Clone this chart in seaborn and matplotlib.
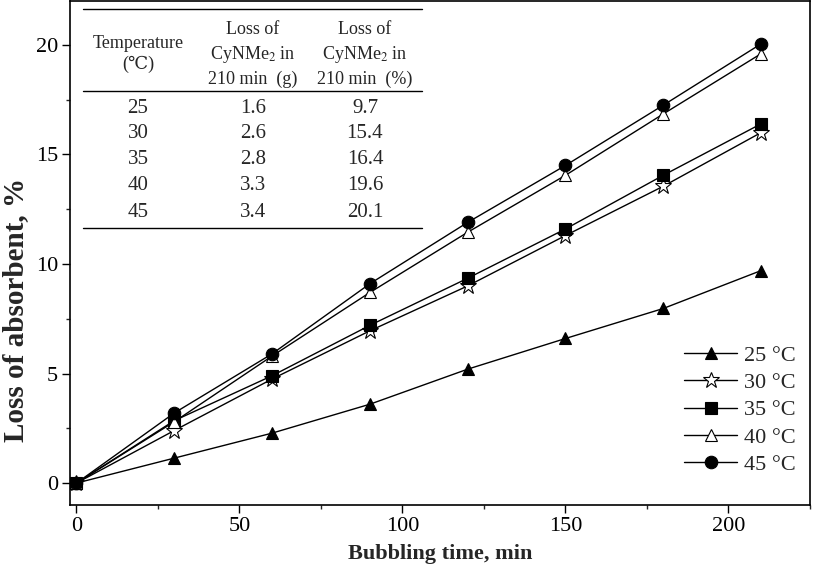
import numpy as np
import pandas as pd
import matplotlib
matplotlib.use("Agg")
import matplotlib.pyplot as plt
from matplotlib.ticker import MultipleLocator, AutoMinorLocator
import seaborn as sns

# Data
time_min = [0, 30, 60, 90, 120, 150, 180, 210]
loss_25 = [0, 1.14, 2.28, 3.6, 5.2, 6.6, 7.97, 9.7]
loss_30 = [0, 2.4, 4.75, 6.95, 9.0, 11.3, 13.55, 16.0]
loss_35 = [0, 2.85, 4.9, 7.2, 9.35, 11.6, 14.05, 16.4]
loss_40 = [0, 2.8, 5.8, 8.7, 11.45, 14.05, 16.85, 19.6]
loss_45 = [0, 3.2, 5.9, 9.1, 11.9, 14.5, 17.25, 20.05]

# Inset table
table_temps = ["25", "30", "35", "40", "45"]
table_loss_g = ["1.6", "2.6", "2.8", "3.3", "3.4"]
table_loss_pct = ["9.7", "15.4", "16.4", "19.6", "20.1"]

sns.set_theme(style="ticks")
plt.rcParams['font.family'] = ['Liberation Serif', 'DejaVu Serif']
plt.rcParams['mathtext.fontset'] = 'stix'

series = [
    ("25 °C", loss_25, "^", "black"),
    ("30 °C", loss_30, "*", "white"),
    ("35 °C", loss_35, "s", "black"),
    ("40 °C", loss_40, "^", "white"),
    ("45 °C", loss_45, "o", "black"),
]

fig = plt.figure(figsize=(8.27, 5.69), dpi=100)
ax = fig.add_axes([0.0846, 0.1125, 0.8948, 0.8855])

for label, vals, mk, fc in series:
    df = pd.DataFrame({"t": time_min, "loss": vals})
    ms = 12 if mk == "*" else 9
    sns.lineplot(data=df, x="t", y="loss", ax=ax, color="black", linewidth=1,
                 marker=mk, markersize=ms, markerfacecolor=fc,
                 markeredgecolor="black", markeredgewidth=0.8, label=label)

ax.set_xlim(-2, 225)
ax.set_ylim(-1, 22)
ax.xaxis.set_major_locator(MultipleLocator(50))
ax.yaxis.set_major_locator(MultipleLocator(5))
ax.xaxis.set_minor_locator(AutoMinorLocator(2))
ax.yaxis.set_minor_locator(AutoMinorLocator(2))
ax.tick_params(which="major", direction="out", length=6, width=1, labelsize=16,
               colors="black", pad=2.5)
ax.tick_params(which="minor", direction="out", length=3, width=1)
for s in ax.spines.values():
    s.set_linewidth(1.2)
    s.set_color("black")

ax.set_xlabel("Bubbling time, min", fontsize=16, fontweight="bold")
ax.set_ylabel("Loss of absorbent, %", fontsize=21, fontweight="bold")
ax.xaxis.set_label_coords(0.5, -0.098)
ax.xaxis.label.set_va("center")
ax.yaxis.set_label_coords(-0.074, 0.387)
ax.yaxis.label.set_va("center")

leg = ax.legend(loc="lower right", frameon=False, fontsize=16, handlelength=2.4,
                handletextpad=0.3, labelspacing=0.3, bbox_to_anchor=(1.008, 0.02))

# Inset table drawn in axes fraction coordinates (pixel positions converted)
def fx(px):
    return (px - 70) / 740.0

def fy(py):
    return (505 - py) / 504.0

x0, x1 = fx(83), fx(422)
for py in (9, 91, 228):
    ax.plot([x0, x1], [fy(py), fy(py)], transform=ax.transAxes, color="black",
            linewidth=1, clip_on=False)

col_x = [fx(138), fx(253), fx(365)]
hdr_kw = dict(transform=ax.transAxes, ha="center", va="center", fontsize=13)
ax.text(col_x[0], fy(43), "Temperature", **hdr_kw)
ax.text(col_x[0], fy(64), "(\u2103)", **hdr_kw)
for cx, unit in ((col_x[1], "(g)"), (col_x[2], "(%)")):
    ax.text(cx, fy(29), "Loss of", **hdr_kw)
    ax.text(cx, fy(54), "CyNMe$_2$ in", **hdr_kw)
    ax.text(cx, fy(79), "210 min  " + unit, **hdr_kw)

row_y = [108, 133, 159, 185, 212]
for i, py in enumerate(row_y):
    for cx, val in zip(col_x, (table_temps[i], table_loss_g[i], table_loss_pct[i])):
        ax.text(cx, fy(py), val, transform=ax.transAxes, ha="center", va="center",
                fontsize=15)

fig.savefig("out.png", dpi=100)
